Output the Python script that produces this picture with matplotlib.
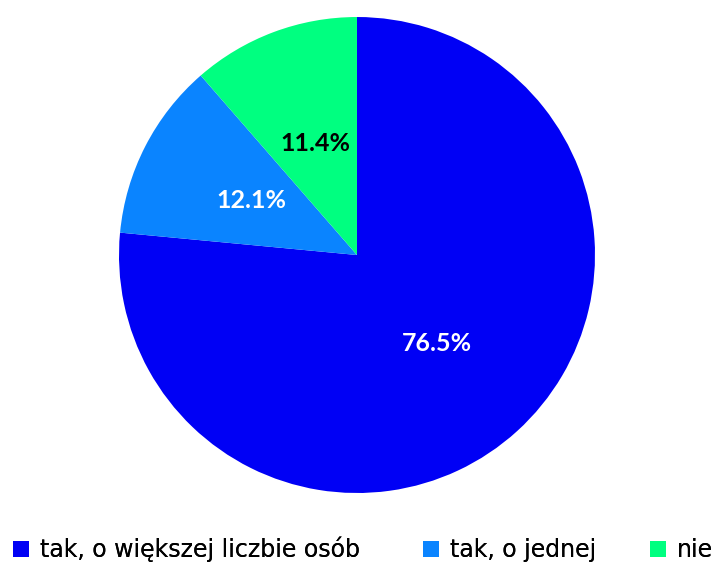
import matplotlib
matplotlib.use("Agg")
import matplotlib.pyplot as plt
from matplotlib.patches import Patch

labels = ["tak, o większej liczbie osób", "tak, o jednej", "nie"]
values = [76.5, 12.1, 11.4]
colors = ["#0000F5", "#0A84FF", "#00FF80"]
text_colors = ["white", "white", "black"]

plt.rcParams['font.family'] = ['DejaVu Sans']

W, H = 716, 565
fig = plt.figure(figsize=(W / 100, H / 100), dpi=100)
ax = fig.add_axes([0.1662, 0.1274, 0.6648, 0.8425])

wedges, texts, autotexts = ax.pie(values, colors=colors, startangle=90, counterclock=False,
                                  autopct="%.1f%%", pctdistance=0.5,
                                  textprops=dict(fontsize=18, fontweight="bold",
                                                 family=["Lato", "DejaVu Sans"]))
for t, c in zip(autotexts, text_colors):
    t.set_color(c)
ax.set_xlim(-1, 1)
ax.set_ylim(-1, 1)
ax.set_aspect("equal")

# one legend per entry so the spacing matches the original
legend_x = [13, 423, 650]
for lab, col, x in zip(labels, colors, legend_x):
    lg = fig.legend([Patch(facecolor=col, edgecolor="none")], [lab], loc="lower left",
                    bbox_to_anchor=(x / W, 3 / H), frameon=False, fontsize=17,
                    handlelength=0.68, handleheight=0.68, handletextpad=0.45,
                    borderpad=0.0, borderaxespad=0.0)
    fig.add_artist(lg)

fig.savefig("out.png", dpi=100)
